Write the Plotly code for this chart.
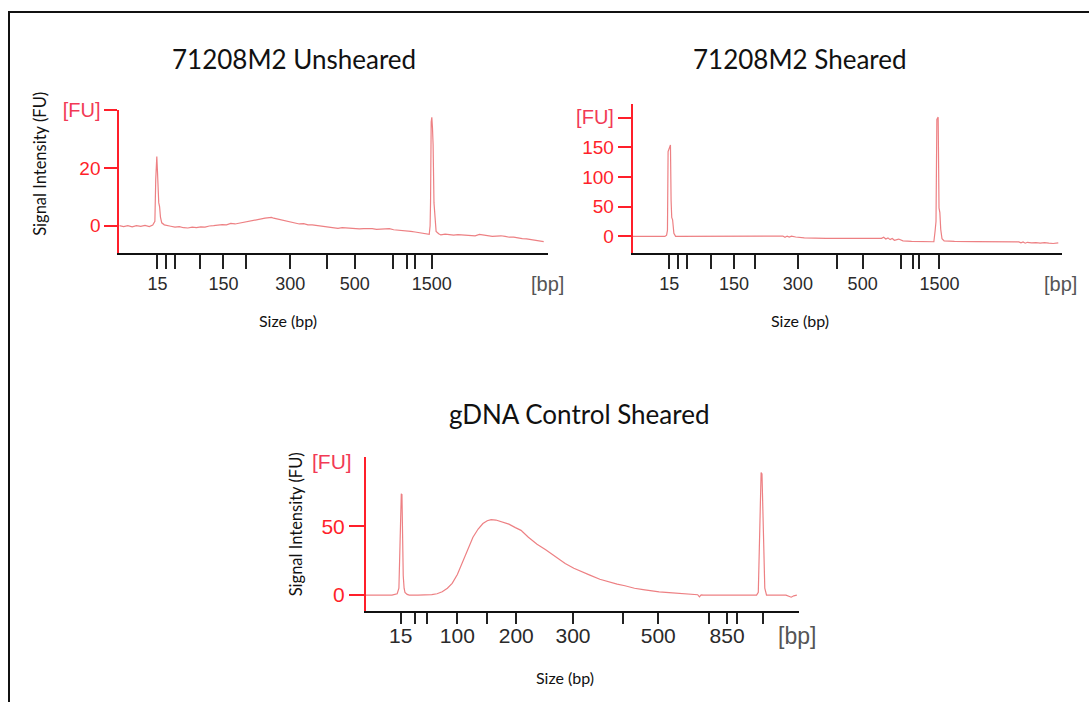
import plotly.graph_objects as go

W, H = 1089, 702

# ---------------- data ----------------
ladder_bp = [15, 25, 50, 100, 150, 200, 300, 400, 500, 700, 850, 1000, 1500]

# ladder migration positions (relative units along each x axis, 0-100)
p1_tick_pos = [8.9, 11.0, 12.9, 18.9, 24.3, 29.5, 39.9, 48.5, 54.9, 63.9, 67.0, 68.9, 72.9]
p2_tick_pos = [8.5, 10.6, 12.6, 18.2, 23.6, 28.5, 38.5, 47.6, 53.6, 62.5, 65.4, 66.8, 71.5]
p3_tick_pos = [8.0, 11.2, 14.2, 21.1, 27.9, 34.7, 47.8, 59.4, 67.5, 79.3, 83.4, 85.7, 91.7]

p12_labeled = [15, 150, 300, 500, 1500]
p3_labeled = [15, 100, 200, 300, 500, 850]

# 71208M2 Unsheared electropherogram
p1_x = [0, 1, 2, 3, 4, 5, 6, 7, 7.8, 8.3, 8.5, 8.6, 8.75, 8.9, 9.05, 9.2, 9.4, 9.6, 9.9, 10.5,
        12, 13, 14, 15, 16, 17, 18, 19, 20, 21, 22, 23, 24, 25, 26, 27, 28, 29, 30, 31, 32, 33,
        34, 35, 35.5, 36, 37, 38, 39, 40, 41, 42, 43, 44, 45, 46, 47, 48, 49, 50, 51, 52, 53,
        54, 55, 56, 57, 58, 59, 60, 61, 62, 63, 64, 65, 66, 67, 68, 69, 70, 71, 72.3,
        72.5, 72.6, 72.75, 72.9, 73.05, 73.2, 73.4, 73.6, 73.9, 74.5, 75, 76, 77, 78, 79, 80,
        81, 82, 83, 84, 85, 86, 87, 88, 89, 90, 91, 92, 93, 94, 95, 96, 97, 98, 99]
p1_y = [0, -0.3, 0, -0.4, 0, -0.2, 0.1, -0.3, 0.2, 1.5, 16, 18.5, 24, 19, 12, 8, 6.5, 3, 1, 0.3,
        -0.2, -0.5, -0.3, -0.7, -0.8, -0.5, -0.7, -0.4, -0.5, -0.1, 0, 0.2, 0.4, 0.3, 0.8, 0.6,
        0.9, 1.3, 1.5, 1.9, 2.2, 2.4, 2.6, 2.8, 2.9, 2.6, 2.3, 2.0, 1.7, 1.3, 1.0, 0.6, 0.7,
        0.3, 0.3, 0.1, 0, -0.3, -0.6, -0.8, -0.9, -0.7, -0.8, -1.0, -0.9, -1.1, -1.0, -0.9,
        -1.0, -1.3, -1.2, -1.1, -1.0, -1.4, -1.5, -1.6, -1.8, -2.0, -2.2, -2.4, -2.6, -3.0,
        0, 8, 36, 37.6, 34, 28, 8, 3, -2, -2.8, -3.2, -2.9, -3.1, -3.3, -3.1, -3.2,
        -3.4, -3.3, -3.5, -3.0, -3.3, -3.4, -3.7, -3.6, -3.5, -3.7, -4.0, -4.0, -4.3, -4.5,
        -4.6, -4.8, -5.0, -5.2, -5.5]

# 71208M2 Sheared electropherogram
p2_x = [0, 5, 7.5, 7.9, 8.1, 8.25, 8.4, 8.6, 8.8, 8.95, 9.1, 9.3, 9.6, 10, 15, 20, 25, 30, 34,
        35, 35.5, 36, 36.5, 37, 38, 39, 40, 45, 50, 55, 58, 58.5, 59, 59.5, 60, 60.5, 61, 62,
        63, 65, 68, 70.2, 70.5, 70.7, 70.9, 71.2, 71.4, 71.6, 71.8, 72.1, 72.6, 75, 80, 85,
        88, 89, 90, 90.5, 91, 91.5, 92, 93, 94, 95, 96, 97, 98, 99.2]
p2_y = [0, 0, 0, 2, 10, 143, 146, 148, 154, 60, 32, 28, 5, 0, 0, 0, -0.2, -0.3, -0.5,
        0.5, -1.5, 0.5, -1.2, 0.3, -1.0, -1.7, -2.5, -3.3, -3.3, -3.4, -3.4, -1.5, -4.5,
        -2.5, -5.5, -3.5, -6.5, -4.5, -7.5, -8.5, -9.0, -9.0, 10, 25, 197, 201, 48, 40, 12,
        -4, -7.5, -8.5, -8.8, -9.0, -9.0, -9.3, -9.2, -11, -9.5, -11.5, -10, -11, -10.5, -11.5,
        -10.5, -11.5, -12, -11]

# gDNA Control Sheared electropherogram
p3_x = [0, 3, 6, 7.2, 7.6, 7.85, 8.0, 8.15, 8.3, 8.45, 8.6, 8.8, 9.0, 9.5, 10, 12, 14.0,
        15.2, 16.4, 17.6, 18.8, 19.9, 21.1, 22.4, 23.5, 24.7, 25.9, 27.0, 28.0, 28.9, 30,
        31.5, 33, 34.5, 35.8, 37.5, 39.5, 41.5, 43.9, 46, 48, 50, 51.7, 54, 56, 58, 59.8,
        62, 64, 66, 67.7, 70, 72, 74, 75.8, 76.6, 77.0, 77.4, 78, 80, 82, 84, 86, 88, 90.2,
        90.6, 90.85, 91.05, 91.25, 91.45, 91.65, 91.85, 92.1, 92.5, 95, 97, 98.2, 98.8, 99.5]
p3_y = [0, 0, 0, 1, 5, 36, 60, 73.5, 73, 40, 14, 5, 2, 0.5, 0, 0, 0,
        0.3, 1, 2.4, 5, 8.5, 15, 25, 34, 42, 48, 52, 54, 54.8, 54.5,
        53, 51.5, 49, 47, 42, 37, 33, 27.8, 23, 19.5, 16.5, 14.5, 11.5, 9.5, 8, 6.8,
        5, 4, 3, 2.4, 1.8, 1.2, 0.8, 0.5, 0.3, -1.2, 0.2, 0, 0, 0, 0, 0, 0, 0,
        2, 30, 62, 89, 88, 60, 20, 5, 0, 0, 0, -1.5, -0.5, 0]

p1_yticks = [0, 20, 40]
p1_yticktext = ["0", "20", "[FU]"]
p2_yticks = [0, 50, 100, 150, 200]
p2_yticktext = ["0", "50", "100", "150", "[FU]"]
p3_yticks = [0, 50]
p3_yticktext = ["0", "50"]

titles = ["71208M2 Unsheared", "71208M2 Sheared", "gDNA Control Sheared"]

# ---------------- styling ----------------
LINE_COL = "rgba(232,96,100,0.8)"
RED = "#ff1f2a"
FU_COL = "#f23a55"
XLAB = "#2a2a2a"
BP_COL = "#555555"
TICKFONT = "Liberation Sans"

TOP_OFF = 10.0          # vertical calibration of the photographed page
V_SPAN = H - TOP_OFF


def px_x(p):
    return p / W


def px_y(p):
    return 1 - (p - TOP_OFF) / V_SPAN


fig = go.Figure()
fig.add_trace(go.Scatter(x=p1_x, y=p1_y, mode="lines", line=dict(color=LINE_COL, width=1.2),
                         xaxis="x", yaxis="y", showlegend=False))
fig.add_trace(go.Scatter(x=p2_x, y=p2_y, mode="lines", line=dict(color=LINE_COL, width=1.2),
                         xaxis="x2", yaxis="y2", showlegend=False))
fig.add_trace(go.Scatter(x=p3_x, y=p3_y, mode="lines", line=dict(color=LINE_COL, width=1.2),
                         xaxis="x3", yaxis="y3", showlegend=False))


def xaxis_cfg(dom, tickpos, labeled, anchor, fs, ticklen, standoff):
    text = [str(b) if b in labeled else "" for b in ladder_bp]
    return dict(domain=dom, range=[0, 100], anchor=anchor, showgrid=False, zeroline=False,
                showline=True, linecolor="#111111", linewidth=2,
                tickmode="array", tickvals=tickpos, ticktext=text,
                ticks="outside", ticklen=ticklen, tickwidth=2, tickcolor="#222222",
                tickfont=dict(family=TICKFONT, size=fs, color=XLAB),
                ticklabelstandoff=standoff, fixedrange=True)


def yaxis_cfg(dom, rng, tickvals, ticktext, anchor, fs, ticklen, fu_size):
    text = [f"<span style='color:{FU_COL};font-size:{fu_size}px'>{t}</span>" if t == "[FU]" else t
            for t in ticktext]
    return dict(domain=dom, range=rng, anchor=anchor, showgrid=False, zeroline=False,
                showline=True, linecolor=RED, linewidth=2,
                tickmode="array", tickvals=tickvals, ticktext=text,
                ticks="outside", ticklen=ticklen, tickwidth=2, tickcolor=RED,
                tickfont=dict(family=TICKFONT, size=fs, color=RED), fixedrange=True)


fig.update_layout(
    width=W, height=H, margin=dict(l=0, r=0, t=0, b=0),
    paper_bgcolor="white", plot_bgcolor="white",
    xaxis=xaxis_cfg([px_x(119.3), px_x(548)], p1_tick_pos, p12_labeled, "y", 18, 14, -1),
    yaxis=yaxis_cfg([px_y(252.3), px_y(109)], [-9.46, 40.2], p1_yticks, p1_yticktext, "x", 19, 13, 20),
    xaxis2=xaxis_cfg([px_x(632.7), px_x(1061.7)], p2_tick_pos, p12_labeled, "y2", 18, 14, -1),
    yaxis2=yaxis_cfg([px_y(252.7), px_y(103.3)], [-28.6, 222.9], p2_yticks, p2_yticktext, "x2", 19, 13, 20),
    xaxis3=xaxis_cfg([px_x(366), px_x(799)], p3_tick_pos, p3_labeled, "y3", 21, 11, -6),
    yaxis3=yaxis_cfg([px_y(610.7), px_y(457)], [-11.4, 100], p3_yticks, p3_yticktext, "x3", 21, 15, 21),
)

ann = []
# titles
for t, (x, y) in zip(titles, [(294, 58), (800, 58), (579, 414)]):
    ann.append(dict(text=t, x=px_x(x), y=px_y(y), xref="paper", yref="paper", showarrow=False,
                    xanchor="center", yanchor="middle",
                    font=dict(family="Lato", size=26, color="#111111")))
# y-axis titles
for (x, y) in [(40, 163), (296, 524)]:
    ann.append(dict(text="Signal Intensity (FU)", x=px_x(x), y=px_y(y), xref="paper", yref="paper",
                    showarrow=False, textangle=-90, xanchor="center", yanchor="middle",
                    font=dict(family="Lato", size=16.5, color="#111111")))
# x-axis titles
for (x, y) in [(288, 320), (800, 320), (565, 677)]:
    ann.append(dict(text="Size (bp)", x=px_x(x), y=px_y(y), xref="paper", yref="paper",
                    showarrow=False, xanchor="center", yanchor="middle",
                    font=dict(family="Lato", size=16, color="#111111")))
# [bp] unit labels
for (x, y, fs) in [(547, 283, 20), (1060, 283, 20), (797, 636, 23)]:
    ann.append(dict(text="[bp]", x=px_x(x), y=px_y(y), xref="paper", yref="paper",
                    showarrow=False, xanchor="center", yanchor="middle",
                    font=dict(family=TICKFONT, size=fs, color=BP_COL)))
# [FU] for bottom panel (no tick)
ann.append(dict(text="[FU]", x=px_x(332), y=px_y(461), xref="paper", yref="paper",
                showarrow=False, xanchor="center", yanchor="middle",
                font=dict(family=TICKFONT, size=21, color=FU_COL)))
fig.update_layout(annotations=ann)

# frame border (top and left edges)
fig.add_shape(type="path", xref="paper", yref="paper",
              path=f"M {px_x(9)} {px_y(702)} L {px_x(9)} {px_y(11)} L {px_x(1089)} {px_y(11)}",
              line=dict(color="#111111", width=2))

fig.write_html("out.html", config={"displayModeBar": False},
               post_script="document.body.style.margin='0';document.body.style.overflow='hidden';")
